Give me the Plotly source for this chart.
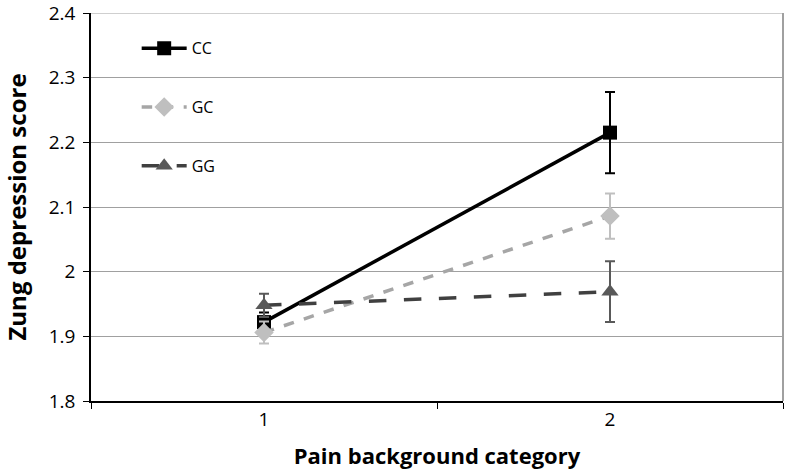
import plotly.graph_objects as go

categories = ["1", "2"]
cc_values = [1.922, 2.215]
cc_err = [0.015, 0.063]
gc_values = [1.906, 2.086]
gc_err = [0.017, 0.035]
gg_values = [1.948, 1.969]
gg_err = [0.018, 0.047]
y_ticks = [1.8, 1.9, 2.0, 2.1, 2.2, 2.3, 2.4]
y_tick_labels = ["1.8", "1.9", "2", "2.1", "2.2", "2.3", "2.4"]

FONT = "Open Sans, Lato, sans-serif"

fig = go.Figure()
fig.add_trace(go.Scatter(
    x=categories, y=cc_values, name="CC", mode="lines+markers", legendgroup="a",
    line=dict(color="#000000", width=3.5),
    marker=dict(symbol="square", size=14, color="#000000"),
    error_y=dict(type="data", array=cc_err, color="#000000", thickness=2, width=5),
))
fig.add_trace(go.Scatter(
    x=categories, y=gc_values, name="GC", mode="lines+markers", legendgroup="b",
    line=dict(color="#A6A6A6", width=3.5, dash="dash"),
    marker=dict(symbol="diamond", size=15, color="#BFBFBF"),
    error_y=dict(type="data", array=gc_err, color="#BFBFBF", thickness=2, width=5),
))
fig.add_trace(go.Scatter(
    x=categories, y=gg_values, name="GG", mode="lines+markers", legendgroup="c",
    line=dict(color="#404040", width=3.5, dash="longdash"),
    marker=dict(symbol="triangle-up", size=15, color="#595959"),
    error_y=dict(type="data", array=gg_err, color="#595959", thickness=2, width=5),
))

fig.add_shape(type="line", xref="paper", yref="paper", x0=1, x1=1, y0=0, y1=1,
              line=dict(color="#A0A0A0", width=2))
fig.add_shape(type="line", xref="paper", yref="y", x0=0, x1=1, y0=2.4, y1=2.4,
              line=dict(color="#A0A0A0", width=1.2), layer="below")

fig.update_layout(
    width=786, height=472,
    margin=dict(l=91, r=3, t=13, b=71),
    paper_bgcolor="white", plot_bgcolor="white",
    font=dict(family=FONT, color="#000000"),
    showlegend=True,
    legend=dict(x=0.066, y=0.953, xanchor="left", yanchor="top",
                bgcolor="rgba(0,0,0,0)", font=dict(size=16, family=FONT),
                tracegroupgap=35, itemwidth=45),
    xaxis=dict(
        type="category", range=[-0.5, 1.5], tickson="boundaries",
        ticks="outside", ticklen=6, tickcolor="#000000",
        showline=True, linecolor="#000000", linewidth=1.5,
        showgrid=False, tickfont=dict(size=19, family=FONT),
        automargin=False,
        title=dict(text="<b>Pain background category</b>", font=dict(size=22, family=FONT), standoff=18),
    ),
    yaxis=dict(
        range=[1.8, 2.4], tickvals=y_ticks, ticktext=y_tick_labels,
        ticks="outside", ticklen=6, tickcolor="#000000",
        showline=True, linecolor="#000000", linewidth=1.5,
        showgrid=True, gridcolor="#A0A0A0", gridwidth=1.2, zeroline=False,
        tickfont=dict(size=19, family=FONT), ticklabelstandoff=4,
        ticklabeloverflow="allow",
        automargin=False,
        title=dict(text="<b>Zung depression score</b>", font=dict(size=24, family=FONT), standoff=26),
    ),
)

fig.write_html("out.html", post_script="document.body.style.margin='0';",
               config={"displayModeBar": False})
